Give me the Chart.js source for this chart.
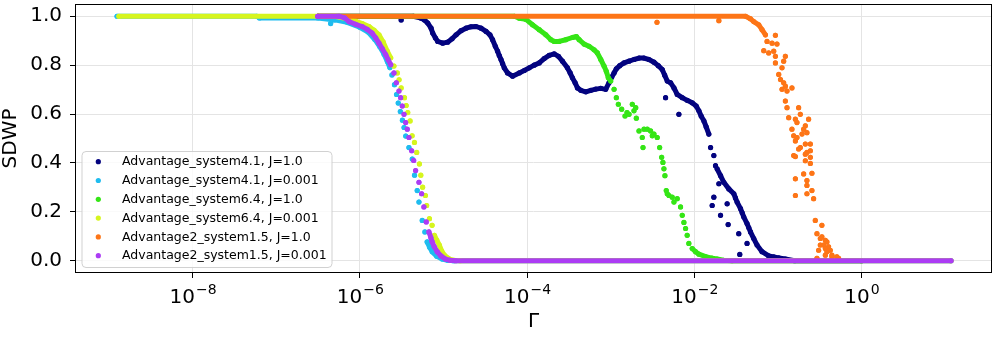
<!DOCTYPE html>
<html>
<head>
<meta charset="utf-8">
<script src="https://cdn.jsdelivr.net/npm/chart.js@4.4.0/dist/chart.umd.min.js"></script>
<style>
  html, body { margin: 0; padding: 0; background: #fff; }
  #wrap { width: 996px; height: 338px; position: relative; }
</style>
</head>
<body>
<div id="wrap"><canvas id="sdwpChart"></canvas></div>
<script>
// legend order = dataset order
const seriesNames = [
  'Advantage_system4.1, J=1.0',
  'Advantage_system4.1, J=0.001',
  'Advantage_system6.4, J=1.0',
  'Advantage_system6.4, J=0.001',
  'Advantage2_system1.5, J=1.0',
  'Advantage2_system1.5, J=0.001'
];
const seriesColors = ['#03037f', '#1fbcef', '#35e516', '#d6f51e', '#fd7517', '#ac3cf4'];

// axis ticks (x ticks are log10 of Gamma)
const xTickExp = [-8, -6, -4, -2, 0];
const yTicks = [0, 0.2, 0.4, 0.6, 0.8, 1.0];

// every series: log10(Gamma) + SDWP
// "band" = densely packed points (drawn as a thick run), null = break
// "dots" = separate points

// Advantage_system4.1, J=1.0
const lg41_J1 = [-6.50, -5.36, -5.266, -5.227, -5.187, -5.147, -5.128, -5.095, -5.068, -5.008, -4.949, -4.896, -4.848, -4.789, -4.729, -4.669, -4.610, -4.550, -4.490, -4.443, -4.412, -4.379, -4.352, -4.332, -4.311, -4.292, -4.272, -4.233, -4.173, -4.093, -4.033, -3.974, -3.914, -3.854, -3.795, -3.735, -3.675, -3.624, -3.576, -3.517, -3.484, -3.457, -3.425, -3.397, -3.357, -3.297, -3.237, -3.178, -3.118, -3.059, -3.019, -2.987, -2.959, -2.932, -2.891, -2.840, -2.780, -2.721, -2.661, -2.601, -2.542, -2.482, -2.431, -2.383, -2.354, -2.323, -2.283, -2.243, -2.204, -2.144, -2.085, -2.025, -1.977, -1.945, -1.918, -1.885, -1.858, -1.826,
  null, -1.727, -1.686, -1.647, -1.587, -1.527, -1.508, -1.488, -1.447, -1.427, -1.408, -1.369, -1.348, -1.328, -1.289, -1.249, -1.190, -1.110, -1.050, -0.990, -0.911, -0.80, 0.0];
const sd41_J1 = [1.0, 1.0, 0.992, 0.985, 0.972, 0.951, 0.931, 0.911, 0.897, 0.890, 0.894, 0.908, 0.924, 0.941, 0.951, 0.957, 0.958, 0.951, 0.938, 0.924, 0.904, 0.877, 0.857, 0.839, 0.823, 0.806, 0.789, 0.768, 0.755, 0.768, 0.778, 0.789, 0.800, 0.809, 0.827, 0.840, 0.846, 0.836, 0.816, 0.789, 0.768, 0.748, 0.728, 0.707, 0.697, 0.691, 0.697, 0.702, 0.705, 0.701, 0.728, 0.751, 0.768, 0.785, 0.798, 0.809, 0.816, 0.823, 0.829, 0.829, 0.823, 0.812, 0.798, 0.782, 0.759, 0.735, 0.728, 0.707, 0.680, 0.667, 0.656, 0.646, 0.633, 0.613, 0.592, 0.572, 0.548, 0.518,
  null, 0.376, 0.348, 0.321, 0.294, 0.274, 0.257, 0.240, 0.213, 0.196, 0.179, 0.152, 0.135, 0.118, 0.091, 0.064, 0.037, 0.020, 0.016, 0.012, 0.007, 0.0, 0.0];
const lg41_J1_dots = [-5.505, -2.343, -2.184, -1.805, -1.766, -1.746, -1.706, -1.766, -1.786, -1.607, -1.686, -1.595, -1.468, -1.369, -1.456];
const sd41_J1_dots = [0.985, 0.667, 0.599, 0.463, 0.430, 0.389, 0.315, 0.260, 0.226, 0.233, 0.186, 0.148, 0.111, 0.071, 0.026];

// Advantage_system4.1, J=0.001
const lg41_J3 = [-8.902, -7.23, -7.20, -6.50, -6.30, -6.15, -6.0, -5.9, -5.82, -5.76, -5.71, -5.67, -5.64,
  null, -5.194, -5.165, -5.134, -5.08, -5.015, -4.95, -4.88, 1.07];
const sd41_J3 = [1.0, 1.0, 0.993, 0.993, 0.985, 0.975, 0.955, 0.935, 0.905, 0.875, 0.845, 0.815, 0.79,
  null, 0.077, 0.055, 0.037, 0.018, 0.007, 0.002, 0.0, 0.0];
const lg41_J3_dots = [-6.348, -5.615, -5.585, -5.56, -5.54, -5.515, -5.49, -5.47, -5.45, -5.412, -5.372, -5.345, -5.313, -5.292, -5.253, -5.221];
const sd41_J3_dots = [0.970, 0.76, 0.72, 0.68, 0.645, 0.61, 0.575, 0.545, 0.51, 0.463, 0.416, 0.35, 0.287, 0.24, 0.165, 0.118];

// Advantage_system6.4, J=1.0
const lg64_J1 = [-6.50, -4.15, -4.093, -4.013, -3.934, -3.854, -3.775, -3.715, -3.675, -3.616, -3.536, -3.457, -3.409, -3.377, -3.317, -3.258, -3.198, -3.159, -3.118, -3.079, -3.052, -3.028, -2.999,
  null, -2.025, -1.985, -1.945, -1.865, -1.786, -1.727, -1.65, -1.55, 0.0];
const sd64_J1 = [1.0, 1.0, 0.992, 0.987, 0.965, 0.945, 0.924, 0.904, 0.897, 0.897, 0.904, 0.913, 0.917, 0.904, 0.886, 0.877, 0.863, 0.850, 0.823, 0.796, 0.775, 0.748, 0.735,
  null, 0.050, 0.037, 0.027, 0.017, 0.011, 0.007, 0.002, 0.0, 0.0];
const lg64_J1_dots = [-2.959, -2.932, -2.908, -2.868, -2.828, -2.804, -2.780, -2.741, -2.721, -2.700, -2.693, -2.661, -2.622, -2.613, -2.601, -2.562, -2.522, -2.502, -2.482, -2.443, -2.414, -2.390, -2.375, -2.363, -2.351, -2.335, -2.323, -2.303, -2.264, -2.243, -2.204, -2.164, -2.144, -2.124, -2.104, -2.085, -2.065];
const sd64_J1_dots = [0.701, 0.667, 0.640, 0.620, 0.592, 0.606, 0.599, 0.640, 0.613, 0.626, 0.583, 0.531, 0.504, 0.463, 0.538, 0.538, 0.531, 0.511, 0.518, 0.504, 0.463, 0.423, 0.402, 0.376, 0.348, 0.287, 0.274, 0.267, 0.260, 0.240, 0.254, 0.220, 0.186, 0.157, 0.132, 0.104, 0.071];

// Advantage_system6.4, J=0.001
const lg64_J3 = [-8.88, -6.30, -6.15, -6.05, -5.97, -5.889, -5.83, -5.77, -5.72, -5.671, -5.63,
  null, -5.107, -5.08, -5.048, -5.02, -4.988, -4.928, -4.86, -4.80, 1.07];
const sd64_J3 = [1.0, 1.0, 0.99, 0.98, 0.97, 0.958, 0.943, 0.924, 0.895, 0.857, 0.83,
  null, 0.104, 0.085, 0.064, 0.04, 0.023, 0.007, 0.001, 0.0, 0.0];
const lg64_J3_dots = [-5.591, -5.551, -5.53, -5.505, -5.465, -5.445, -5.426, -5.398, -5.374, -5.346, -5.319, -5.287, -5.27, -5.248, -5.215, -5.2, -5.167, -5.135];
const sd64_J3_dots = [0.796, 0.768, 0.74, 0.707, 0.667, 0.635, 0.606, 0.572, 0.511, 0.484, 0.443, 0.396, 0.35, 0.301, 0.267, 0.226, 0.172, 0.145];

// Advantage2_system1.5, J=1.0
const lgA2_J1 = [-6.50, -1.387, -1.33, -1.289, -1.229, -1.190, -1.149];
const sdA2_J1 = [1.0, 1.0, 0.99, 0.978, 0.965, 0.945, 0.924];
const lgA2_J1_dots = [-2.446, -1.706, -1.030, -1.130, -1.070, -1.011, -1.169, -1.110, -1.050, -1.030, -0.911, -0.931, -1.030, -0.951, -0.990, -0.969, -0.931, -0.911, -0.832, -0.951, -0.891, -0.911, -0.891, -0.752, -0.871, -0.791, -0.732, -0.633, -0.772, -0.832, -0.672, -0.692, -0.653, -0.811, -0.772, -0.712, -0.791, -0.672, -0.732, -0.612, -0.752, -0.672, -0.612, -0.811, -0.653, -0.791, -0.612, -0.672, -0.612, -0.692, -0.593, -0.791, -0.653, -0.653, -0.593, -0.573, -0.791, -0.653, -0.553, -0.474, -0.533, -0.474, -0.493, -0.433, -0.414, -0.493, -0.453, -0.394, -0.433, -0.374, -0.513, -0.414, -0.433, -0.354, -0.354, -0.295, -0.274, -0.533];
const sdA2_J1_dots = [0.975, 0.982, 0.922, 0.897, 0.890, 0.886, 0.859, 0.850, 0.857, 0.836, 0.836, 0.816, 0.809, 0.789, 0.762, 0.741, 0.728, 0.714, 0.707, 0.701, 0.694, 0.653, 0.626, 0.626, 0.585, 0.579, 0.599, 0.579, 0.565, 0.538, 0.552, 0.538, 0.524, 0.511, 0.504, 0.518, 0.490, 0.477, 0.463, 0.477, 0.457, 0.436, 0.450, 0.430, 0.443, 0.426, 0.423, 0.409, 0.398, 0.355, 0.358, 0.335, 0.328, 0.308, 0.287, 0.254, 0.267, 0.274, 0.165, 0.145, 0.111, 0.098, 0.091, 0.084, 0.077, 0.064, 0.064, 0.057, 0.050, 0.043, 0.043, 0.037, 0.023, 0.023, 0.016, 0.016, 0.010, 0.010];

// Advantage2_system1.5, J=0.001
const lgA2_J3 = [-6.503, -6.25, -6.18, -6.128, -6.05, -5.973, -5.91, -5.853, -5.81, -5.77, -5.73, -5.69, -5.66, -5.63,
  null, -5.173, -5.15, -5.134, -5.11, -5.074, -5.03, -4.974, -4.92, -4.854, 1.07];
const sdA2_J3 = [1.0, 1.0, 0.993, 0.978, 0.967, 0.958, 0.946, 0.931, 0.912, 0.89, 0.867, 0.843, 0.822, 0.802,
  null, 0.118, 0.095, 0.077, 0.058, 0.037, 0.02, 0.007, 0.002, 0.0, 0.0];
const lgA2_J3_dots = [-5.591, -5.563, -5.531, -5.511, -5.492, -5.471, -5.451, -5.432, -5.412, -5.379, -5.355, -5.332, -5.292, -5.260, -5.233, -5.205];
const sdA2_J3_dots = [0.768, 0.728, 0.694, 0.667, 0.633, 0.599, 0.565, 0.538, 0.504, 0.450, 0.41, 0.369, 0.321, 0.274, 0.220, 0.159];

const bands = [[lg41_J1, sd41_J1], [lg41_J3, sd41_J3], [lg64_J1, sd64_J1], [lg64_J3, sd64_J3], [lgA2_J1, sdA2_J1], [lgA2_J3, sdA2_J3]];
const dots = [[lg41_J1_dots, sd41_J1_dots], [lg41_J3_dots, sd41_J3_dots], [lg64_J1_dots, sd64_J1_dots], [lg64_J3_dots, sd64_J3_dots], [lgA2_J1_dots, sdA2_J1_dots], [lgA2_J3_dots, sdA2_J3_dots]];

const gap = { x: null, y: null };

function buildPoints(band, dot) {
  const out = [];
  band[0].forEach((v, i) => {
    out.push(v === null ? gap : { x: Math.pow(10, v), y: band[1][i] });
  });
  // separate dots: a gap before each one, so no run joins them
  dot[0].forEach((v, i) => {
    out.push(gap);
    out.push({ x: Math.pow(10, v), y: dot[1][i] });
  });
  return out;
}

const datasets = seriesNames.map((name, i) => ({
  label: name,
  data: buildPoints(bands[i], dots[i]),
  showLine: true,
  spanGaps: false,
  borderColor: seriesColors[i],
  backgroundColor: seriesColors[i],
  borderWidth: 5,
  borderCapStyle: 'round',
  borderJoinStyle: 'round',
  pointRadius: 2.6,
  pointBorderWidth: 0,
  pointBackgroundColor: seriesColors[i],
  tension: 0,
  order: seriesNames.length - 1 - i   // last series ends up on top
}));

const FONT = "'DejaVu Sans', sans-serif";
Chart.defaults.font.family = FONT;
Chart.defaults.color = '#000';

// frame, x tick labels with exponents, legend box
const decorations = {
  id: 'decorations',
  afterDraw(chart) {
    const { ctx, chartArea: a, scales } = chart;
    ctx.save();

    ctx.strokeStyle = '#000';
    ctx.lineWidth = 1;
    ctx.strokeRect(a.left + 0.5, a.top + 0.5, a.right - a.left - 1, a.bottom - a.top - 1);

    ctx.fillStyle = '#000';
    ctx.textAlign = 'left';
    ctx.textBaseline = 'alphabetic';
    xTickExp.forEach(e => {
      const x = scales.x.getPixelForValue(Math.pow(10, e));
      const sup = (e < 0 ? '\u2212' : '') + Math.abs(e);
      ctx.font = '20px ' + FONT;
      const w1 = ctx.measureText('10').width;
      ctx.font = '14px ' + FONT;
      const w2 = ctx.measureText(sup).width;
      const sx = x - (w1 + w2) / 2;
      ctx.font = '20px ' + FONT;
      ctx.fillText('10', sx, a.bottom + 30);
      ctx.font = '14px ' + FONT;
      ctx.fillText(sup, sx + w1 + 1, a.bottom + 21);
    });

    // legend
    const lx = a.left + 7, ly = a.bottom - 121.5, lw = 250, lh = 116, r = 4;
    ctx.beginPath();
    ctx.moveTo(lx + r, ly);
    ctx.lineTo(lx + lw - r, ly);
    ctx.quadraticCurveTo(lx + lw, ly, lx + lw, ly + r);
    ctx.lineTo(lx + lw, ly + lh - r);
    ctx.quadraticCurveTo(lx + lw, ly + lh, lx + lw - r, ly + lh);
    ctx.lineTo(lx + r, ly + lh);
    ctx.quadraticCurveTo(lx, ly + lh, lx, ly + lh - r);
    ctx.lineTo(lx, ly + r);
    ctx.quadraticCurveTo(lx, ly, lx + r, ly);
    ctx.closePath();
    ctx.fillStyle = 'rgba(255,255,255,0.8)';
    ctx.fill();
    ctx.strokeStyle = 'rgba(204,204,204,0.9)';
    ctx.lineWidth = 1;
    ctx.stroke();

    ctx.font = '12.5px ' + FONT;
    ctx.textBaseline = 'middle';
    seriesNames.forEach((name, i) => {
      const yy = ly + 10.2 + i * 18.8;
      ctx.fillStyle = seriesColors[i];
      ctx.beginPath();
      ctx.arc(lx + 16.3, yy, 2.6, 0, Math.PI * 2);
      ctx.fill();
      ctx.fillStyle = '#000';
      ctx.fillText(name, lx + 40, yy + 0.5);
    });
    ctx.restore();
  }
};

new Chart(document.getElementById('sdwpChart'), {
  type: 'scatter',
  data: { datasets: datasets },
  options: {
    responsive: true,
    maintainAspectRatio: false,
    animation: false,
    events: [],
    layout: { padding: { top: 2, right: 3, bottom: 0, left: 0 } },
    plugins: { legend: { display: false }, tooltip: { enabled: false } },
    scales: {
      x: {
        type: 'logarithmic',
        min: Math.pow(10, -9.405),
        max: Math.pow(10, 1.56),
        afterBuildTicks: s => { s.ticks = xTickExp.map(e => ({ value: Math.pow(10, e) })); },
        afterFit: s => { s.height = 65; s.paddingLeft = 0; s.paddingRight = 0; },
        ticks: { display: false },
        grid: { color: '#e4e4e4', lineWidth: 1, drawTicks: true, tickLength: 5, tickColor: '#000', tickWidth: 1 },
        border: { display: false },
        title: { display: true, text: 'Γ', color: '#000', font: { size: 20, lineHeight: 1 }, padding: { top: 0, bottom: 6 } }
      },
      y: {
        min: -0.05,
        max: 1.05,
        afterBuildTicks: s => { s.ticks = yTicks.map(v => ({ value: v })); },
        afterFit: s => { s.width = 75; s.paddingTop = 0; s.paddingBottom = 0; },
        ticks: { font: { size: 20 }, color: '#000', padding: 8, callback: v => v.toFixed(1) },
        grid: { color: '#e4e4e4', lineWidth: 1, drawTicks: true, tickLength: 5, tickColor: '#000', tickWidth: 1 },
        border: { display: false },
        title: { display: true, text: 'SDWP', color: '#000', font: { size: 20, lineHeight: 1 }, padding: { top: 1, bottom: 0 } }
      }
    }
  },
  plugins: [decorations]
});
</script>
</body>
</html>
